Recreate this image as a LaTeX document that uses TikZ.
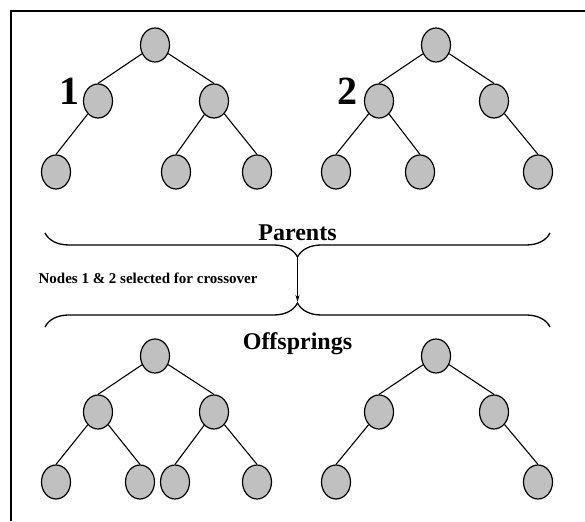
\documentclass[tikz,border=0pt]{standalone}
\usepackage{fontspec}
\setmainfont{Liberation Serif}
\usetikzlibrary{positioning,shapes.geometric,decorations.pathreplacing,arrows.meta}
\definecolor{nodegray}{RGB}{192,192,192}

\begin{document}
\begin{tikzpicture}[x=1pt, y=1pt, on grid]
  \tikzstyle{gnode} = [ellipse, draw, fill=nodegray, line width=1.2pt, inner sep=0pt, minimum width=29pt, minimum height=34pt]
  \tikzstyle{edge} = [line width=1.1pt]
  \tikzstyle{big} = [font=\bfseries\fontsize{40}{40}\selectfont]
  \tikzstyle{head} = [font=\bfseries\fontsize{24}{24}\selectfont]
  \tikzstyle{note} = [font=\bfseries\fontsize{15}{15}\selectfont]
  \tikzstyle{curly} = [decorate, decoration={brace, amplitude=24pt}, line width=1.3pt]

  \useasboundingbox (0,0) rectangle (585,521);
  \draw[line width=2pt] (11,0) -- (11,510) -- (585,510);

  % parent 1
  \node[gnode] (r1) at (155,476) {};
  \node[gnode, below left=56pt and 57pt of r1] (a1) {};
  \node[gnode, below right=56pt and 59pt of r1] (b1) {};
  \node[gnode, below left=71pt and 42pt of a1] (c1) {};
  \node[gnode, below left=71pt and 38pt of b1] (d1) {};
  \node[gnode, below right=71pt and 43pt of b1] (e1) {};
  \node[big, above left=10pt and 29pt of a1] (n1) {1};

  \draw[edge] (r1) -- (a1.north);
  \draw[edge] (r1) -- (b1.north);
  \draw[edge] (a1) -- (c1.north);
  \draw[edge] (b1) -- (d1.north);
  \draw[edge] (b1) -- (e1.north);

  % parent 2
  \node[gnode] (r2) at (436,476) {};
  \node[gnode, below left=56pt and 57pt of r2] (a2) {};
  \node[gnode, below right=56pt and 58pt of r2] (b2) {};
  \node[gnode, below left=71pt and 43pt of a2] (c2) {};
  \node[gnode, below right=71pt and 41pt of a2] (d2) {};
  \node[gnode, below right=71pt and 44pt of b2] (e2) {};
  \node[big, above left=10pt and 32pt of a2] (n2) {2};

  \draw[edge] (r2) -- (a2.north);
  \draw[edge] (r2) -- (b2.north);
  \draw[edge] (a2) -- (c2.north);
  \draw[edge] (a2) -- (d2.north);
  \draw[edge] (b2) -- (e2.north);

  % braces and crossover arrow
  \coordinate (pl) at (45,288);
  \coordinate (pr) at (550,288);
  \coordinate (ol) at (45,194);
  \coordinate (or) at (550,194);
  \coordinate (ptip) at (297.5,263);
  \coordinate (otip) at (297.5,219);
  \draw[curly] (pr) -- (pl);
  \draw[curly] (ol) -- (or);
  \draw[line width=0.9pt, -{Stealth[length=7pt, width=4pt]}] (ptip) -- (otip);

  \node[head, above=17pt of ptip, anchor=base] (parents) {Parents};
  \node[head, below=47.5pt of otip, anchor=base] (offs) {Offsprings};
  \node[note] (sel) at (148,243) {Nodes 1 \& 2 selected for crossover};

  % offspring 1
  \node[gnode] (r3) at (155,165) {};
  \node[gnode, below left=56pt and 57pt of r3] (a3) {};
  \node[gnode, below right=56pt and 59pt of r3] (b3) {};
  \node[gnode, below left=70pt and 42pt of a3] (c3) {};
  \node[gnode, below right=70pt and 42pt of a3] (d3) {};
  \node[gnode, below left=70pt and 39pt of b3] (f3) {};
  \node[gnode, below right=70pt and 43pt of b3] (e3) {};

  \draw[edge] (r3) -- (a3.north);
  \draw[edge] (r3) -- (b3.north);
  \draw[edge] (a3) -- (c3.north);
  \draw[edge] (a3) -- (d3.north);
  \draw[edge] (b3) -- (f3.north);
  \draw[edge] (b3) -- (e3.north);

  % offspring 2
  \node[gnode] (r4) at (436,165) {};
  \node[gnode, below left=56pt and 57pt of r4] (a4) {};
  \node[gnode, below right=56pt and 58pt of r4] (b4) {};
  \node[gnode, below left=70pt and 43pt of a4] (c4) {};
  \node[gnode, below right=70pt and 44pt of b4] (e4) {};

  \draw[edge] (r4) -- (a4.north);
  \draw[edge] (r4) -- (b4.north);
  \draw[edge] (a4) -- (c4.north);
  \draw[edge] (b4) -- (e4.north);

\end{tikzpicture}
\end{document}
